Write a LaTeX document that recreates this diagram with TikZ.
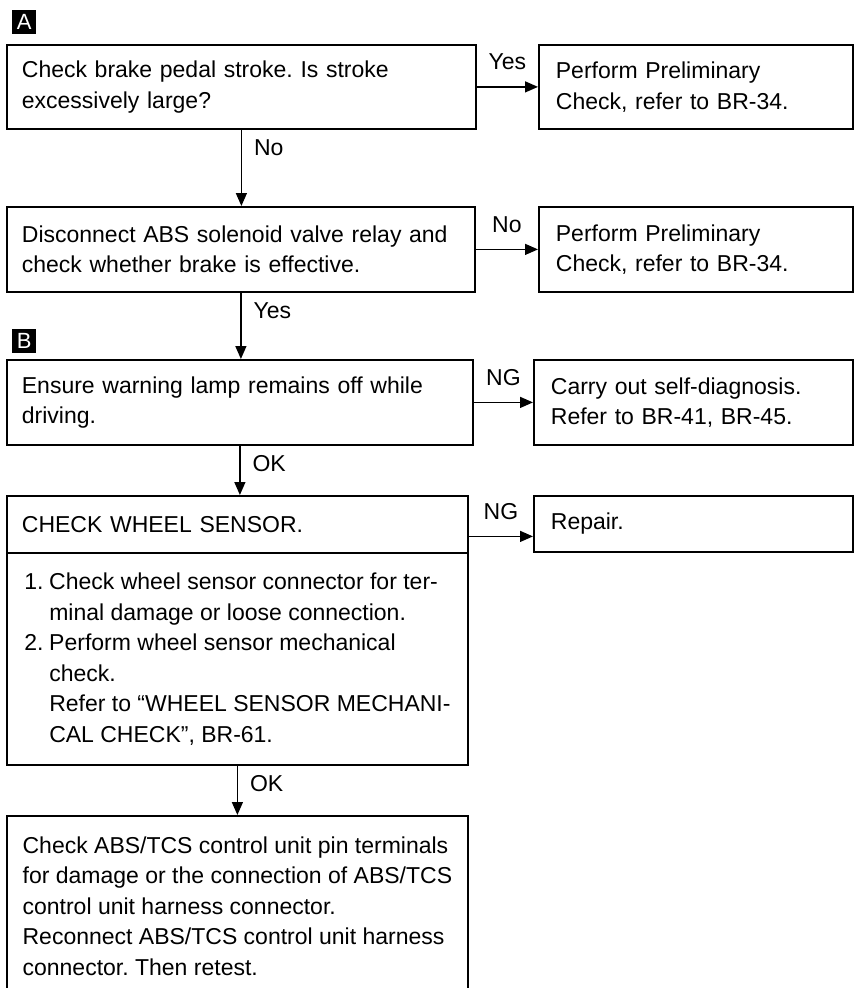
\documentclass[tikz,border=0pt]{standalone}
\usepackage{fontspec}
\setmainfont{Liberation Sans}
\usetikzlibrary{arrows.meta}
\frenchspacing

\begin{document}
\begin{tikzpicture}[x=1pt,y=-1pt,
  font={\fontsize{23}{30.5}\selectfont},
  >={Triangle[length=13pt,width=11pt]},
  box/.style={draw,line width=1.8pt,anchor=north west,align=left,
    inner xsep=15pt,inner ysep=0pt},
  reply/.style={box,inner xsep=17pt},
  tag/.style={fill=black,text=white,anchor=north west,minimum size=24pt,
    inner sep=0pt,font={\fontsize{22}{22}\selectfont}},
  flow/.style={->,line width=1.4pt},
  hlabel/.style={midway,above=16pt,inner sep=0pt},
  vlabel/.style={pos=0,anchor=north west,inner sep=0pt,xshift=12pt,yshift=-9pt}]
  \useasboundingbox (0,0) rectangle (857,988);
  \def\numitem#1{\makebox[25pt][l]{#1}}

  % ---------- A ----------
  \node[tag] (tagA) at (12,10) {A};
  \node[box,text width=439pt,minimum height=84pt] (stroke) at (6,44)
    {Check brake pedal stroke. Is stroke\\excessively large?};
  \node[reply,text width=280pt,minimum height=84pt] (pre1) at (538,44)
    {Perform Preliminary\\Check, refer to BR-34.};
  \node[box,text width=438pt,minimum height=85pt] (relay) at (6,206)
    {Disconnect ABS solenoid valve relay and\\check whether brake is effective.};
  \node[reply,text width=280pt,minimum height=85pt] (pre2) at (538,206)
    {Perform Preliminary\\Check, refer to BR-34.};

  % ---------- B ----------
  \node[tag] (tagB) at (12,329) {B};
  \node[box,text width=436pt,minimum height=85pt] (lamp) at (6,359)
    {Ensure warning lamp remains off while\\driving.};
  \node[reply,text width=285pt,minimum height=85pt] (diag) at (533,359)
    {Carry out self-diagnosis.\\Refer to BR-41, BR-45.};
  \node[box,text width=431pt,minimum height=57pt] (sensorhead) at (6,495)
    {CHECK WHEEL SENSOR.};
  \node[reply,text width=285pt,minimum height=56pt] (repair) at (533,495)
    {Repair.};
  \node[box,inner xsep=12pt,minimum width=461pt,minimum height=212pt] (sensorbody) at (6,552)
    {\numitem{1.}Check wheel sensor connector for ter-\\
     \hspace*{25pt}minal damage or loose connection.\\
     \numitem{2.}Perform wheel sensor mechanical\\
     \hspace*{25pt}check.\\
     \hspace*{25pt}Refer to “WHEEL SENSOR MECHANI-\\
     \hspace*{25pt}CAL CHECK”, BR-61.};
  \node[box,inner xsep=10pt,minimum width=461pt,minimum height=180pt] (ecu) at (6,815)
    {Check ABS/TCS control unit pin terminals\\
     for damage or the connection of ABS/TCS\\
     control unit harness connector.\\
     Reconnect ABS/TCS control unit harness\\
     connector. Then retest.};

  % 连接线
  \foreach \a/\b/\t in {stroke/relay/No, relay/lamp/Yes, lamp/sensorhead/OK, sensorbody/ecu/OK}
    \draw[flow] (\a.south) -- (\a.south |- \b.north) node[vlabel] {\t};
  \foreach \a/\b/\t in {stroke/pre1/Yes, relay/pre2/No, lamp/diag/NG}
    \draw[flow] (\a.east) -- (\a.east -| \b.west) node[hlabel] {\t};
  \draw[flow] ([yshift=-12pt]sensorhead.east) -- ([yshift=-12pt]sensorhead.east -| repair.west)
    node[hlabel] {NG};
\end{tikzpicture}
\end{document}
